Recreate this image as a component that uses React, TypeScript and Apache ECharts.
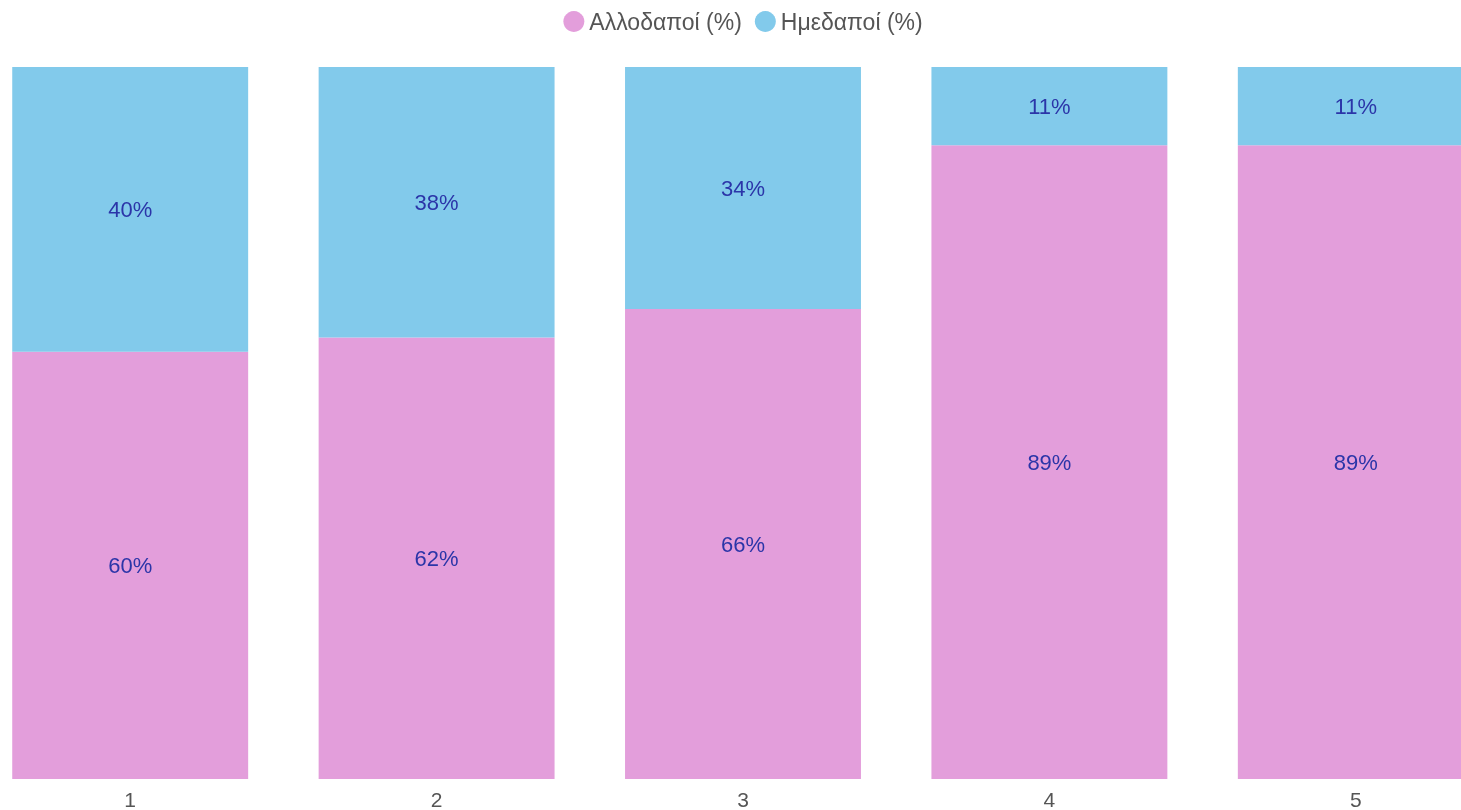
import React, { useEffect, useRef } from "react";
import * as echarts from "echarts";

const categories = ["1", "2", "3", "4", "5"];
const foreignPct = [60, 62, 66, 89, 89];
const domesticPct = [40, 38, 34, 11, 11];
const seriesNames = ["Αλλοδαποί (%)", "Ημεδαποί (%)"];

const FONT = "'Liberation Sans', Arial, sans-serif";

export default function App() {
  const ref = useRef<HTMLDivElement>(null);
  useEffect(() => {
    if (!ref.current) return;
    const chart = echarts.init(ref.current, undefined, { renderer: "svg" });
    const label = {
      show: true,
      position: "inside",
      color: "#2b35a8",
      fontSize: 22,
      fontFamily: FONT,
      formatter: (p: any) => `${p.value}%`,
    };
    chart.setOption({
      animation: false,
      textStyle: { fontFamily: FONT },
      legend: {
        top: 3,
        left: "center",
        icon: "circle",
        itemWidth: 21,
        itemHeight: 21,
        itemGap: 13,
        textStyle: { fontSize: 23, color: "#555", fontFamily: FONT },
      },
      grid: { left: 0, right: 0, top: 65, bottom: 31 },
      xAxis: {
        type: "category",
        data: categories,
        axisLine: { show: false },
        axisTick: { show: false },
        axisLabel: { color: "#555", fontSize: 21, margin: 10, fontFamily: FONT },
      },
      yAxis: {
        type: "value",
        min: 0,
        max: 100,
        show: false,
        splitLine: { show: false },
      },
      series: [
        {
          name: seriesNames[0],
          type: "bar",
          stack: "total",
          barWidth: "77%",
          data: foreignPct,
          itemStyle: { color: "#e39edb" },
          label,
        },
        {
          name: seriesNames[1],
          type: "bar",
          stack: "total",
          barWidth: "77%",
          data: domesticPct,
          itemStyle: { color: "#82caeb" },
          label,
        },
      ],
    });
    return () => chart.dispose();
  }, []);
  return (
    <div
      ref={ref}
      style={{ position: "fixed", left: -23, top: 2, width: 1532, height: 808 }}
    />
  );
}
